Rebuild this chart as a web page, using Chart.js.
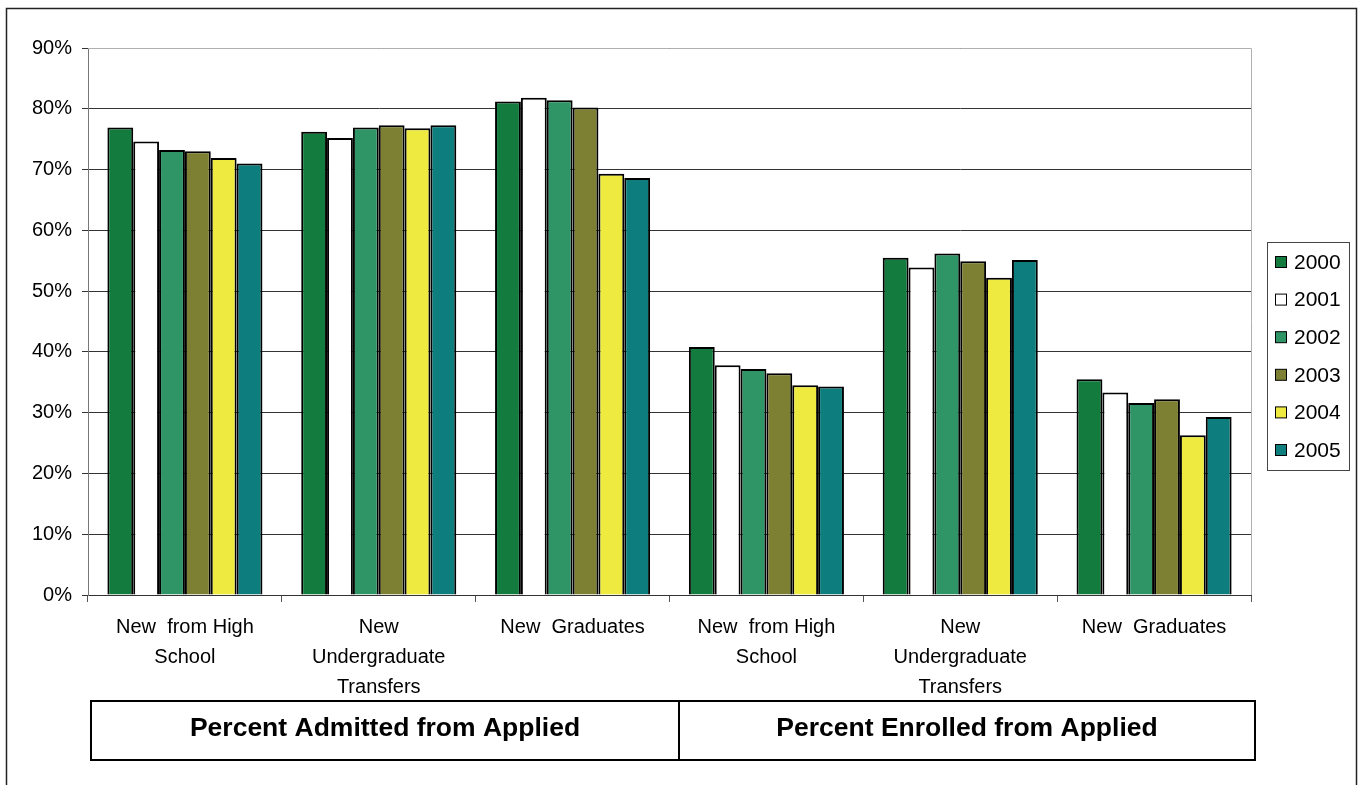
<!DOCTYPE html>
<html>
    <head>
        <meta charset="utf-8">
        <script src="https://cdn.jsdelivr.net/npm/chart.js"></script>
        <title>Percent Admitted and Enrolled</title>
        <style>
            body { margin: 0; background: #fff; }
            #wrap { width: 1359px; height: 785px; position: relative; }
        </style>
    </head>
    <body>
        <div id="wrap">
            <canvas id="myChart" width="1359" height="785"></canvas>
        </div>
        <script>
            const categories = [
                ['New  from High', 'School'],
                ['New', 'Undergraduate', 'Transfers'],
                ['New  Graduates'],
                ['New  from High', 'School'],
                ['New', 'Undergraduate', 'Transfers'],
                ['New  Graduates']
            ];
            const groupTitles = ['Percent Admitted from Applied', 'Percent Enrolled from Applied'];
            const years = ['2000', '2001', '2002', '2003', '2004', '2005'];

            const v2000 = [76.9, 76.2, 81.2, 40.8, 55.5, 35.5];
            const v2001 = [74.6, 75.2, 81.8, 37.8, 53.9, 33.3];
            const v2002 = [73.2, 76.9, 81.4, 37.2, 56.2, 31.6];
            const v2003 = [73.0, 77.3, 80.2, 36.5, 54.9, 32.2];
            const v2004 = [71.9, 76.8, 69.3, 34.5, 52.2, 26.3];
            const v2005 = [71.0, 77.3, 68.6, 34.3, 55.1, 29.3];
            const seriesValues = [v2000, v2001, v2002, v2003, v2004, v2005];
            const colors = ['#137b3d', '#ffffff', '#2f9466', '#7d7f33', '#eeea40', '#0e7d7e'];

            const font = "'Liberation Sans', Arial, sans-serif";

            // frame, plot outline, legend box and the two group title boxes
            const extras = {
                id: 'extras',
                beforeDatasetsDraw(chart) {
                    const c = chart.ctx, a = chart.chartArea;
                    c.save();
                    c.strokeStyle = '#b0b0b0';
                    c.lineWidth = 1;
                    c.beginPath();
                    c.moveTo(a.left, a.top + 0.5);
                    c.lineTo(a.right + 0.5, a.top + 0.5);
                    c.lineTo(a.right + 0.5, a.bottom);
                    c.stroke();
                    c.restore();
                },
                afterDraw(chart) {
                    const c = chart.ctx;
                    c.save();
                    // outer frame
                    c.strokeStyle = '#222';
                    c.lineWidth = 1.5;
                    c.strokeRect(6.5, 8.5, 1350, 800);

                    // legend
                    c.lineWidth = 1;
                    c.strokeStyle = '#444';
                    c.strokeRect(1267.5, 242.5, 82, 228);
                    c.font = '21px ' + font;
                    c.textBaseline = 'middle';
                    c.textAlign = 'left';
                    chart.data.datasets.forEach((ds, i) => {
                        const y = 262 + i * 37.6;
                        c.fillStyle = ds.backgroundColor;
                        c.fillRect(1275.5, y - 5.5, 11, 11);
                        c.strokeStyle = '#000';
                        c.strokeRect(1275.5, y - 5.5, 11, 11);
                        c.fillStyle = '#000';
                        c.fillText(ds.label, 1294, y + 1);
                    });

                    // group title boxes
                    const edges = [91, 679, 1255];
                    c.lineWidth = 2;
                    c.strokeStyle = '#000';
                    c.font = 'bold 26.5px ' + font;
                    c.textAlign = 'center';
                    groupTitles.forEach((t, i) => {
                        const l = edges[i], r = edges[i + 1];
                        c.strokeRect(l, 701, r - l, 59);
                        c.fillStyle = '#000';
                        c.fillText(t, (l + r) / 2, 729);
                    });
                    c.restore();
                }
            };

            const ctx = document.getElementById('myChart').getContext('2d');
            const thisChart = new Chart(ctx, {
                type: 'bar',
                data: {
                    labels: categories,
                    datasets: years.map((y, i) => ({
                        label: y,
                        data: seriesValues[i],
                        backgroundColor: colors[i],
                        borderColor: '#000',
                        borderWidth: 2,
                        borderSkipped: 'bottom',
                        categoryPercentage: 0.8,
                        barPercentage: 1.0
                    }))
                },
                options: {
                    responsive: false,
                    animation: false,
                    layout: {
                        padding: { top: 48, right: 108, left: 0, bottom: 0 }
                    },
                    plugins: {
                        legend: { display: false },
                        tooltip: { enabled: false }
                    },
                    scales: {
                        x: {
                            afterFit(scale) { scale.height = 190; },
                            grid: {
                                offset: true,
                                drawOnChartArea: false,
                                drawTicks: true,
                                tickLength: 7,
                                color: '#555'
                            },
                            border: { color: '#333', width: 1 },
                            ticks: {
                                color: '#000',
                                padding: 10,
                                maxRotation: 0,
                                autoSkip: false,
                                font: { family: font, size: 20, lineHeight: 1.5 }
                            }
                        },
                        y: {
                            min: 0,
                            max: 90,
                            afterFit(scale) { scale.width = 88; },
                            grid: {
                                color: '#333',
                                lineWidth: 1,
                                tickLength: 6
                            },
                            border: { color: '#777', width: 1 },
                            ticks: {
                                stepSize: 10,
                                color: '#000',
                                padding: 10,
                                font: { family: font, size: 20 },
                                callback: (v) => v + '%'
                            }
                        }
                    }
                },
                plugins: [extras]
            });
        </script>
    </body>
</html>
